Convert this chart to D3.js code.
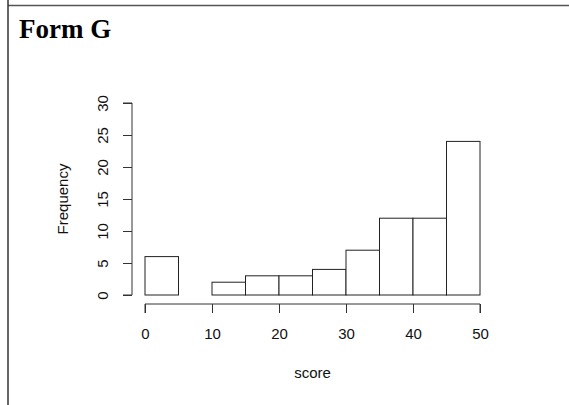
<!DOCTYPE html>
<html>
<head>
<meta charset="utf-8">
<script src="https://cdn.jsdelivr.net/npm/d3@7/dist/d3.min.js"></script>
<style>
  html, body { margin: 0; padding: 0; background: #fff; }
  svg { display: block; }
</style>
</head>
<body>
<svg id="chart" width="569" height="405"></svg>
<script>
// Histogram of scores (bin width 5)
const binStarts = [0, 5, 10, 15, 20, 25, 30, 35, 40, 45];
const frequencies = [6, 0, 2, 3, 3, 4, 7, 12, 12, 24];
const xTicks = [0, 10, 20, 30, 40, 50];
const yTicks = [0, 5, 10, 15, 20, 25, 30];
const binWidth = 5;

const svg = d3.select("#chart");

// Panel frame lines
svg.append("line").attr("x1", 8).attr("x2", 569).attr("y1", 5.5).attr("y2", 5.5)
  .attr("stroke", "#555").attr("stroke-width", 1.5);
svg.append("line").attr("x1", 8).attr("x2", 8).attr("y1", 0).attr("y2", 405)
  .attr("stroke", "#333").attr("stroke-width", 1.5);

// Title
svg.append("text").attr("x", 19).attr("y", 38)
  .attr("font-family", "'Liberation Serif', 'DejaVu Serif', serif")
  .attr("font-weight", "bold").attr("font-size", 27)
  .attr("fill", "#000").text("Form G");

const x = d3.scaleLinear().domain([0, 50]).range([145, 480]);
const y = d3.scaleLinear().domain([0, 30]).range([295, 103]);

const font = "'Liberation Sans', Arial, sans-serif";
const fontSize = 15;

// Bars
svg.append("g").selectAll("rect").data(binStarts).join("rect")
  .attr("x", (d) => x(d))
  .attr("y", (d, i) => y(frequencies[i]))
  .attr("width", (d) => x(d + binWidth) - x(d))
  .attr("height", (d, i) => y(0) - y(frequencies[i]))
  .attr("fill", "#fff").attr("stroke", "#222").attr("stroke-width", 1);

// X axis
const xAxis = svg.append("g").attr("transform", "translate(0,304)")
  .call(d3.axisBottom(x).tickValues(xTicks).tickSize(9).tickPadding(15).tickFormat(d3.format("d")));
xAxis.select(".domain").attr("d", `M${x(0)},9V0H${x(50)}V9`).attr("stroke", "#333");
xAxis.selectAll(".tick line").attr("stroke", "#333");
xAxis.selectAll("text").attr("font-family", font).attr("font-size", fontSize).attr("fill", "#111");

// Y axis
const yAxis = svg.append("g").attr("transform", "translate(132,0)")
  .call(d3.axisLeft(y).tickValues(yTicks).tickSize(9).tickFormat(d3.format("d")));
yAxis.select(".domain").attr("d", `M-9,${y(0)}H0V${y(30)}H-9`).attr("stroke", "#333");
yAxis.selectAll(".tick line").attr("stroke", "#333");
yAxis.selectAll("text")
  .attr("font-family", font).attr("font-size", fontSize).attr("fill", "#111")
  .attr("x", null)
  .attr("text-anchor", "middle")
  .attr("transform", "translate(-29,0) rotate(-90)")
  .attr("dy", "0.35em");

// Axis titles
svg.append("text").attr("x", x(25)).attr("y", 378)
  .attr("text-anchor", "middle").attr("font-family", font).attr("font-size", fontSize)
  .attr("fill", "#111").text("score");
svg.append("text")
  .attr("transform", `translate(68,${y(15)}) rotate(-90)`)
  .attr("text-anchor", "middle").attr("font-family", font).attr("font-size", fontSize)
  .attr("fill", "#111").text("Frequency");
</script>
</body>
</html>
